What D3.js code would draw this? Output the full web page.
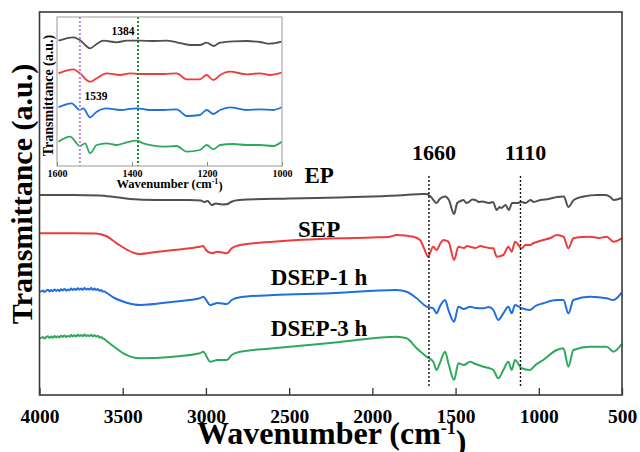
<!DOCTYPE html>
<html>
<head>
<meta charset="utf-8">
<script src="https://cdn.jsdelivr.net/npm/d3@7"></script>
<style>
  body { margin: 0; background: #fff; }
  svg { display: block; }
  text { font-family: "Liberation Serif", "Times New Roman", serif; font-weight: bold; }
</style>
</head>
<body>
<div id="wrapper"></div>
<script>
// FTIR spectra, [wavenumber, transmittance a.u.]
const epData = [
  [4000, 200], [3800, 200], [3640, 199.5], [3550, 198], [3456, 196], [3300, 195], [3100, 195],
  [3030, 194.5], [3010, 193], [2990, 194], [2965, 190], [2940, 191.5], [2925, 191], [2900, 190.5],
  [2870, 191], [2850, 193], [2800, 195], [2500, 196.5], [2200, 197.5], [2000, 198.5], [1800, 200],
  [1700, 201], [1675, 201], [1650, 198.5], [1614, 192], [1595, 196], [1563, 198.5], [1540, 195],
  [1509, 181], [1490, 192], [1470, 194], [1453, 195], [1435, 192], [1420, 193], [1400, 195.5],
  [1380, 195], [1360, 193], [1340, 193.5], [1300, 192], [1275, 193], [1253, 185], [1235, 188],
  [1225, 187], [1200, 190], [1180, 185], [1160, 192], [1130, 192], [1103, 193], [1080, 192],
  [1050, 195], [1030, 193], [990, 195], [940, 196], [890, 198], [850, 198.5], [822, 188],
  [790, 195], [730, 198.5], [650, 200], [600, 200], [570, 198], [550, 195], [502, 197]
];
const sepData = [
  [4000, 161.7], [3800, 161.7], [3660, 161.5], [3600, 159], [3536, 151.7], [3436, 142.3], [3396, 141],
  [3300, 143], [3196, 145], [3036, 148.3], [3016, 149], [3000, 145], [2965, 141.7], [2930, 143.3],
  [2875, 141.7], [2845, 146.7], [2795, 150], [2595, 153.3], [2194, 156.7], [2000, 157.5], [1894, 158.3],
  [1854, 160], [1754, 158.3], [1714, 155], [1690, 147], [1665, 138.3], [1654, 142], [1634, 148.3],
  [1614, 145], [1590, 152], [1573, 155], [1543, 153.3], [1509, 135], [1483, 148.3], [1450, 147],
  [1430, 149], [1413, 148.3], [1380, 147], [1350, 149], [1333, 148.3], [1300, 147], [1273, 146.7],
  [1253, 138.3], [1213, 140], [1183, 148.3], [1163, 143.3], [1143, 153.3], [1103, 146.7], [1080, 150],
  [1053, 150], [1030, 152], [973, 155], [930, 157], [892, 160], [852, 158.3], [822, 146.7],
  [792, 156.7], [740, 158], [692, 158.3], [640, 157], [592, 158.3], [552, 153.3], [502, 156.7]
];
const dsep1Data = [
  [4000, 103.3], [3990, 103.6], [3980, 104.4], [3970, 103.1], [3960, 104.2], [3950, 105.3], [3940, 103.6],
  [3930, 104.9], [3920, 103.8], [3910, 105.6], [3900, 104.1], [3890, 105.2], [3880, 103.9], [3870, 105.8],
  [3860, 104.6], [3850, 106.1], [3840, 104.3], [3830, 105.5], [3820, 104.8], [3810, 106.4], [3800, 105],
  [3790, 106.2], [3780, 104.9], [3770, 106.8], [3760, 105.3], [3750, 106.5], [3740, 105.1], [3730, 107],
  [3720, 105.4], [3710, 106.3], [3700, 105.6], [3690, 106.9], [3680, 105.2], [3670, 106.4], [3660, 105],
  [3650, 105.9], [3640, 104.2], [3630, 104.9], [3620, 103.5], [3610, 103.4], [3600, 102.5],
  [3550, 97], [3476, 92.3], [3396, 90], [3196, 93.3], [3036, 96.7], [3016, 98.3], [2975, 90],
  [2930, 92], [2875, 91], [2845, 95], [2795, 97.7], [2595, 100], [2254, 101.7], [1854, 105],
  [1794, 103.3], [1734, 96.7], [1674, 88.3], [1634, 86.7], [1614, 81.7], [1595, 88.3], [1563, 95],
  [1543, 85], [1509, 73.3], [1483, 88.3], [1450, 86], [1413, 88.3], [1380, 87], [1333, 86.7],
  [1300, 88], [1273, 85], [1243, 75], [1213, 81.7], [1183, 88.3], [1163, 81.7], [1143, 90],
  [1103, 86.7], [1053, 85], [1020, 89], [973, 91.7], [892, 95], [852, 95], [822, 81.7],
  [792, 95], [692, 98.3], [592, 96.7], [552, 95], [502, 102.3]
];
const dsep3Data = [
  [4000, 56.7], [3990, 57.1], [3980, 57.9], [3970, 56.6], [3960, 57.8], [3950, 58.7], [3940, 57.2],
  [3930, 58.4], [3920, 57.3], [3910, 59], [3900, 57.6], [3890, 58.8], [3880, 57.5], [3870, 59.3],
  [3860, 58.1], [3850, 59.6], [3840, 57.9], [3830, 59.1], [3820, 58.3], [3810, 59.9], [3800, 58.6],
  [3790, 59.7], [3780, 58.4], [3770, 60.3], [3760, 58.9], [3750, 60], [3740, 58.7], [3730, 60.4],
  [3720, 58.9], [3710, 59.8], [3700, 59.1], [3690, 60.2], [3680, 58.7], [3670, 59.8], [3660, 58.4],
  [3650, 59.2], [3640, 57.6], [3630, 58], [3620, 56.7], [3610, 56], [3600, 54.5],
  [3550, 48], [3496, 41.7], [3396, 36.7], [3196, 38.3], [3036, 41.7], [3016, 43.3], [2975, 33.3],
  [2930, 35], [2875, 35], [2845, 40], [2795, 43.3], [2595, 46.7], [2194, 53], [1854, 58.3],
  [1794, 56.7], [1734, 46.7], [1674, 38.3], [1634, 33.3], [1614, 25], [1595, 31.7], [1563, 43.3],
  [1543, 31.7], [1509, 15], [1483, 31.7], [1450, 30], [1413, 33.3], [1380, 31], [1333, 28.3],
  [1300, 27], [1273, 25], [1243, 16.7], [1213, 25], [1183, 33.3], [1163, 25], [1143, 35],
  [1103, 26.7], [1053, 25], [1020, 30], [973, 35], [892, 45], [852, 46.7], [822, 28.3],
  [792, 45], [692, 48.3], [592, 48.3], [552, 43.3], [502, 51]
];

// inset, 1600-1000 cm-1
const insetEp = [
  [1596, 125.3], [1556, 128.7], [1539, 126], [1512, 117.7], [1494, 122], [1476, 125.3], [1441, 123.7],
  [1414, 125.3], [1379, 125.3], [1343, 125], [1308, 125.3], [1281, 123.7], [1245, 121], [1219, 121],
  [1201, 123.3], [1183, 120], [1165, 123.3], [1130, 124.7], [1094, 125], [1059, 124], [1032, 122.3], [1001, 124.3]
];
const insetSep = [
  [1596, 92.7], [1556, 96.7], [1539, 92.7], [1512, 84.3], [1494, 87.7], [1468, 92.7], [1432, 91],
  [1405, 92.7], [1379, 92], [1352, 92], [1316, 92], [1281, 92.7], [1254, 86.7], [1219, 86.7],
  [1201, 91], [1183, 86], [1165, 91], [1139, 94.3], [1094, 91.7], [1059, 92.7], [1032, 91], [1001, 93.3]
];
const insetDsep1 = [
  [1596, 58.7], [1561, 62.7], [1539, 56], [1530, 57.7], [1512, 48.7], [1494, 54.3], [1468, 57.7],
  [1432, 56], [1388, 57.7], [1352, 56], [1316, 56], [1281, 56.7], [1254, 50], [1219, 51],
  [1201, 56], [1183, 52], [1165, 56], [1139, 58.7], [1094, 56], [1059, 56.7], [1023, 56], [1001, 58.7]
];
const insetDsep3 = [
  [1596, 24.3], [1565, 29.3], [1539, 20], [1525, 22.7], [1512, 12.7], [1494, 21], [1468, 22.7],
  [1441, 21], [1414, 23.7], [1388, 25.3], [1370, 22.7], [1343, 20.3], [1316, 19.3], [1281, 20],
  [1254, 14.3], [1219, 16], [1201, 21], [1183, 16.7], [1165, 21], [1130, 22], [1094, 21],
  [1059, 21], [1023, 20], [1001, 24.3]
];

const seriesNames = ["EP", "SEP", "DSEP-1 h", "DSEP-3 h"];
const seriesColors = ["#505050", "#ee3b3b", "#1f6fdc", "#30a85c"];
const labelLevels = [212, 158, 110, 59];
const mainTicks = [4000, 3500, 3000, 2500, 2000, 1500, 1000, 500];
const insetTicks = [1600, 1400, 1200, 1000];
const markers = [1660, 1110];
const insetMarkers = [1539, 1384];

const dimensions = {
  width: 640,
  height: 452,
  margin: { top: 12, right: 18, bottom: 57, left: 39.5 },
}
dimensions.boundedWidth = dimensions.width - dimensions.margin.left - dimensions.margin.right;
dimensions.boundedHeight = dimensions.height - dimensions.margin.top - dimensions.margin.bottom;

const svg = d3.select("#wrapper")
  .append("svg")
    .attr("width", dimensions.width)
    .attr("height", dimensions.height)

const bounds = svg.append("g")
  .attr("transform", `translate(${dimensions.margin.left}, ${dimensions.margin.top})`)

const xScale = d3.scaleLinear()
  .domain([4000, 500])
  .range([0, dimensions.boundedWidth]);

const yScale = d3.scaleLinear()
  .domain([0, 383])
  .range([dimensions.boundedHeight, 0]);

const line = d3.line()
  .x(d => xScale(d[0]))
  .y(d => yScale(d[1]))
  .curve(d3.curveMonotoneX);

const mainSeries = [epData, sepData, dsep1Data, dsep3Data];
bounds.selectAll("path.spectrum")
  .data(mainSeries)
  .join("path")
    .attr("class", "spectrum")
    .attr("d", line)
    .attr("fill", "none")
    .attr("stroke", (d, i) => seriesColors[i])
    .attr("stroke-width", 2)

// dotted markers
bounds.selectAll("line.marker")
  .data(markers)
  .join("line")
    .attr("class", "marker")
    .attr("x1", d => xScale(d))
    .attr("x2", d => xScale(d))
    .attr("y1", 164)
    .attr("y2", 374)
    .attr("stroke", "#111")
    .attr("stroke-width", 1.4)
    .attr("stroke-dasharray", "2,2")

bounds.selectAll("text.marker-label")
  .data(markers)
  .join("text")
    .attr("class", "marker-label")
    .attr("x", d => xScale(d) + 5)
    .attr("y", 148)
    .attr("text-anchor", "middle")
    .style("font-size", "22px")
    .text(d => d)

bounds.selectAll("text.series-label")
  .data(seriesNames)
  .join("text")
    .attr("class", "series-label")
    .attr("x", xScale(2320))
    .attr("y", (d, i) => yScale(labelLevels[i]))
    .attr("text-anchor", "middle")
    .style("font-size", "23px")
    .text(d => d)

// axis
const xAxisGenerator = d3.axisBottom(xScale)
  .tickValues(mainTicks)
  .tickFormat(d3.format("d"))
  .tickSizeInner(-7)
  .tickSizeOuter(0)
  .tickPadding(14);

const xAxis = bounds.append("g")
  .attr("transform", `translate(0, ${dimensions.boundedHeight})`)
  .call(xAxisGenerator);
xAxis.select(".domain").remove();
xAxis.selectAll(".tick line").attr("stroke", "#333").attr("stroke-width", 1.3);
xAxis.selectAll(".tick text")
  .attr("fill", "#000")
  .style("font-family", "'Liberation Serif', serif")
  .style("font-weight", "bold")
  .style("font-size", "19.5px");

bounds.append("rect")
  .attr("width", dimensions.boundedWidth)
  .attr("height", dimensions.boundedHeight)
  .attr("fill", "none")
  .attr("stroke", "#3a3a3a")
  .attr("stroke-width", 1.6)

const xLabel = svg.append("text")
  .attr("x", dimensions.margin.left + dimensions.boundedWidth / 2 + 1)
  .attr("y", 444)
  .attr("text-anchor", "middle")
  .style("font-size", "32px")
xLabel.append("tspan").text("Wavenumber (cm")
xLabel.append("tspan").attr("dy", "-0.55em").style("font-size", "18px").text("-1")
xLabel.append("tspan").attr("dy", "0.55em").text(")")

svg.append("text")
  .attr("transform", "translate(32, 194) rotate(-90)")
  .attr("text-anchor", "middle")
  .style("font-size", "30px")
  .text("Transmittance (a.u.)")

// inset
const inset = { x: 57, y: 17, width: 225, height: 149 };
const insetG = svg.append("g")
  .attr("transform", `translate(${inset.x}, ${inset.y})`)

const insetX = d3.scaleLinear()
  .domain([1600, 1000])
  .range([0, inset.width]);
const insetY = d3.scaleLinear()
  .domain([0, 149])
  .range([inset.height, 0]);

const insetLine = d3.line()
  .x(d => insetX(d[0]))
  .y(d => insetY(d[1]))
  .curve(d3.curveMonotoneX);

insetG.append("rect")
  .attr("width", inset.width)
  .attr("height", inset.height)
  .attr("fill", "#fff")

const insetSeries = [insetEp, insetSep, insetDsep1, insetDsep3];
insetG.selectAll("path.inset-spectrum")
  .data(insetSeries)
  .join("path")
    .attr("class", "inset-spectrum")
    .attr("d", insetLine)
    .attr("fill", "none")
    .attr("stroke", (d, i) => seriesColors[i])
    .attr("stroke-width", 1.8)

const insetMarkerColors = ["#b98ae6", "#1d8a2e"];
insetG.selectAll("line.inset-marker")
  .data(insetMarkers)
  .join("line")
    .attr("class", "inset-marker")
    .attr("x1", d => insetX(d))
    .attr("x2", d => insetX(d))
    .attr("y1", 0)
    .attr("y2", inset.height)
    .attr("stroke", (d, i) => insetMarkerColors[i])
    .attr("stroke-width", 2)
    .attr("stroke-dasharray", "2,2")

insetG.append("text")
  .attr("x", insetX(1539) + 16)
  .attr("y", 83)
  .attr("text-anchor", "middle")
  .style("font-size", "11.5px")
  .text("1539")
insetG.append("text")
  .attr("x", insetX(1384) - 15)
  .attr("y", 18)
  .attr("text-anchor", "middle")
  .style("font-size", "11.5px")
  .text("1384")

const insetAxisGenerator = d3.axisBottom(insetX)
  .tickValues(insetTicks)
  .tickFormat(d3.format("d"))
  .tickSizeInner(-4)
  .tickSizeOuter(0)
  .tickPadding(4);
const insetAxis = insetG.append("g")
  .attr("transform", `translate(0, ${inset.height})`)
  .call(insetAxisGenerator);
insetAxis.select(".domain").remove();
insetAxis.selectAll(".tick line").attr("stroke", "#888");
insetAxis.selectAll(".tick text")
  .attr("fill", "#000")
  .style("font-family", "'Liberation Serif', serif")
  .style("font-weight", "bold")
  .style("font-size", "10px");

insetG.append("rect")
  .attr("width", inset.width)
  .attr("height", inset.height)
  .attr("fill", "none")
  .attr("stroke", "#9a9a9a")
  .attr("stroke-width", 1)

const insetXLabel = insetG.append("text")
  .attr("x", inset.width / 2)
  .attr("y", inset.height + 22)
  .attr("text-anchor", "middle")
  .style("font-size", "12.5px")
insetXLabel.append("tspan").text("Wavenumber (cm")
insetXLabel.append("tspan").attr("dy", "-0.5em").style("font-size", "8px").text("-1")
insetXLabel.append("tspan").attr("dy", "0.5em").text(")")

insetG.append("text")
  .attr("transform", `translate(-4, ${inset.height / 2 + 4}) rotate(-90)`)
  .attr("text-anchor", "middle")
  .style("font-size", "14px")
  .text("Transmittance (a.u.)")
</script>
</body>
</html>
